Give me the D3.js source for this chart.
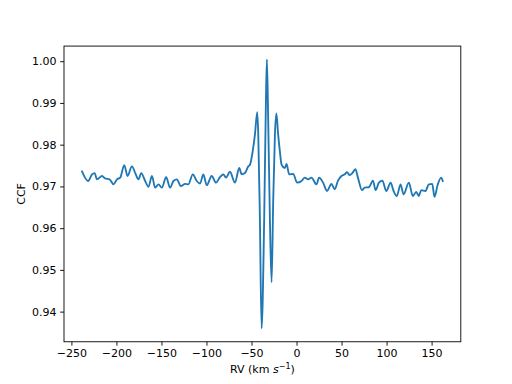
<!DOCTYPE html>
<html>
<head>
<meta charset="utf-8">
<script src="https://cdn.jsdelivr.net/npm/d3@7"></script>
<style>
  html, body { margin: 0; padding: 0; background: #fff; }
  svg { display: block; font-family: "DejaVu Sans", sans-serif; }
</style>
</head>
<body>
<svg id="chart" width="512" height="384"></svg>
<script>
const rv = [-238.2, -231.5, -227.1, -224.2, -221.6, -216.0, -212.4, -207.6, -203.2, -199.4,
  -195.8, -191.3, -187.7, -182.8, -179.1, -175.5, -172.5, -168.1, -164.4, -160.6,
  -157.0, -153.3, -149.6, -144.8, -140.4, -136.7, -132.9, -128.5, -123.7, -120.1,
  -115.2, -110.8, -107.1, -103.5, -99.7, -94.2, -89.4, -85.0, -81.3, -78.3,
  -73.9, -68.4, -63.6, -60.9, -57.3, -53.6, -51.7, -48.7, -46.2, -43.6,
  -42.5, -40.7, -38.8, -35.9, -34.0, -32.9, -31.5, -29.6, -27.7, -25.9,
  -24.0, -22.4, -20.4, -18.5, -16.6, -13.0, -11.1, -8.2, -3.8, 0.7,
  5.5, 9.2, 12.9, 16.6, 22.2, 25.0, 29.5, 33.9, 38.8, 42.4,
  46.1, 49.9, 53.5, 56.1, 59.0, 62.0, 65.4, 68.2, 72.7, 75.7,
  80.4, 84.9, 87.8, 91.5, 95.3, 99.7, 104.5, 107.8, 111.4, 115.5,
  118.9, 124.7, 129.2, 132.9, 135.8, 138.5, 143.2, 146.9, 150.7, 153.2,
  156.9, 160.6, 162.4];
const ccf = [0.9736, 0.9713, 0.9729, 0.9732, 0.9717, 0.9725, 0.9719, 0.9717, 0.9705, 0.9717,
  0.9721, 0.9751, 0.9725, 0.9748, 0.9732, 0.9717, 0.9732, 0.9713, 0.9699, 0.9725,
  0.9697, 0.9705, 0.9697, 0.9722, 0.9697, 0.9713, 0.9717, 0.9701, 0.9706, 0.9705,
  0.9729, 0.9713, 0.9707, 0.9729, 0.9703, 0.9725, 0.9709, 0.9722, 0.9729, 0.9721,
  0.9735, 0.9709, 0.9744, 0.9729, 0.9732, 0.9748, 0.9752, 0.9784, 0.9824, 0.9878,
  0.9825, 0.9625, 0.9360, 0.9625, 0.9903, 1.0004, 0.9863, 0.9625, 0.9470, 0.9665,
  0.9824, 0.9875, 0.9824, 0.9784, 0.9752, 0.9744, 0.9754, 0.9729, 0.9730, 0.9709,
  0.9713, 0.9721, 0.9717, 0.9721, 0.9705, 0.9721, 0.9709, 0.9689, 0.9706, 0.9693,
  0.9714, 0.9725, 0.9729, 0.9734, 0.9727, 0.9732, 0.9741, 0.9721, 0.9691, 0.9697,
  0.9698, 0.9714, 0.9691, 0.9709, 0.9714, 0.9689, 0.9709, 0.9689, 0.9677, 0.9705,
  0.9681, 0.9709, 0.9677, 0.9687, 0.9677, 0.9691, 0.9689, 0.9705, 0.9706, 0.9675,
  0.9705, 0.9721, 0.9713];
const xTicks = [-250, -200, -150, -100, -50, 0, 50, 100, 150];
const yTicks = [0.94, 0.95, 0.96, 0.97, 0.98, 0.99, 1.00];

const W = 512, H = 384;
const m = { left: 64, right: 460.8, top: 46.08, bottom: 341.76 };
const svg = d3.select("#chart");

const xMin = d3.min(rv), xMax = d3.max(rv);
const yMin = d3.min(ccf), yMax = d3.max(ccf);
const xPad = (xMax - xMin) * 0.05, yPad = (yMax - yMin) * 0.05;
const x = d3.scaleLinear().domain([xMin - xPad, xMax + xPad]).range([m.left, m.right]);
const y = d3.scaleLinear().domain([yMin - yPad, yMax + yPad]).range([m.bottom, m.top]);

const fmtMinus = s => s.replace("-", "\u2212");

const xAxis = d3.axisBottom(x).tickValues(xTicks).tickSize(3.9).tickPadding(3.5)
  .tickFormat(d => fmtMinus(d3.format("d")(d)));
const gx = svg.append("g").attr("transform", `translate(0,${m.bottom})`).call(xAxis);
gx.select(".domain").remove();
gx.selectAll(".tick line").attr("stroke", "#000").attr("stroke-width", 0.9);
gx.selectAll(".tick text").attr("fill", "#000").style("font-size", "11px")
  .attr("font-family", "DejaVu Sans");

const yAxis = d3.axisLeft(y).tickValues(yTicks).tickSize(3.9).tickPadding(3.5)
  .tickFormat(d3.format(".2f"));
const gy = svg.append("g").attr("transform", `translate(${m.left},0)`).call(yAxis);
gy.select(".domain").remove();
gy.selectAll(".tick line").attr("stroke", "#000").attr("stroke-width", 0.9);
gy.selectAll(".tick text").attr("fill", "#000").style("font-size", "11px")
  .attr("font-family", "DejaVu Sans");

const pts = rv.map((v, i) => [v, ccf[i]]);
const line = d3.line().x(d => x(d[0])).y(d => y(d[1])).curve(d3.curveMonotoneX);
svg.append("path").datum(pts).attr("d", line)
  .attr("fill", "none").attr("stroke", "#1f77b4").attr("stroke-width", 1.85)
  .attr("stroke-linejoin", "round").attr("stroke-linecap", "square");

svg.append("rect").attr("x", m.left).attr("y", m.top)
  .attr("width", m.right - m.left).attr("height", m.bottom - m.top)
  .attr("fill", "none").attr("stroke", "#000").attr("stroke-width", 0.9);

const xl = svg.append("text").attr("x", (m.left + m.right) / 2).attr("y", 373)
  .attr("text-anchor", "middle").attr("fill", "#000").style("font-size", "11px");
xl.append("tspan").text("RV (km ");
xl.append("tspan").attr("font-style", "italic").text("s");
xl.append("tspan").attr("dy", -4.5).style("font-size", "8px").text("\u22121");
xl.append("tspan").attr("dy", 4.5).text(")");

svg.append("text").attr("transform", `translate(25,${(m.top + m.bottom) / 2}) rotate(-90)`)
  .attr("text-anchor", "middle").attr("fill", "#000").style("font-size", "11px").text("CCF");
</script>
</body>
</html>
